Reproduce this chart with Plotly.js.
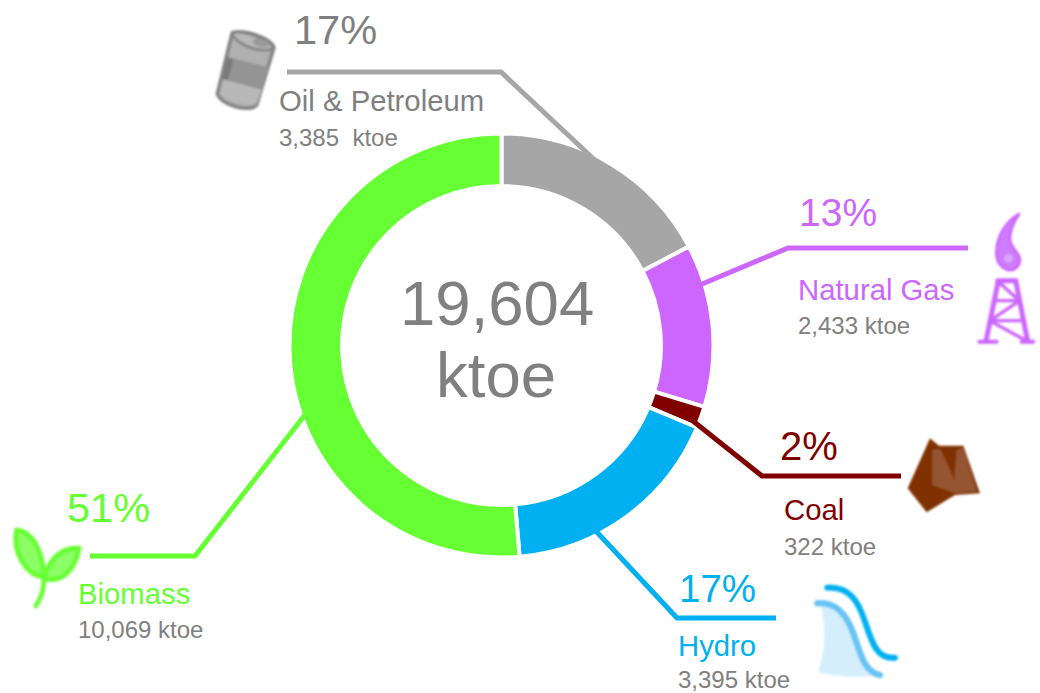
<!DOCTYPE html>
<html>
<head>
<meta charset="utf-8">
<script src="https://cdn.plot.ly/plotly-3.0.1.min.js"></script>
<style>html,body{margin:0;padding:0;background:#fff;overflow:hidden}#c{width:1040px;height:693px}</style>
</head>
<body>
<div id="c"></div>
<script>
var categories = ["Oil & Petroleum", "Natural Gas", "Coal", "Hydro", "Biomass"];
var ktoe = [3385, 2433, 322, 3395, 10069];
var percents = ["17%", "13%", "2%", "17%", "51%"];
var totalLabel = ["19,604", "ktoe"];
var valueLabels = ["3,385\u00a0\u00a0ktoe", "2,433 ktoe", "322 ktoe", "3,395 ktoe", "10,069 ktoe"];
var colors = ["#a6a6a6", "#cc66ff", "#800000", "#00b0f0", "#66ff33"];

var W = 1040, H = 693;
var px = function (x) { return x / W; };
var py = function (y) { return 1 - y / H; };
var sans = "Liberation Sans, Arial, sans-serif";
var grey = "#808080";

var trace = {
  type: "pie", labels: categories, values: ktoe, sort: false, direction: "clockwise",
  rotation: 0, hole: 0.752, textinfo: "none", hoverinfo: "label+value",
  marker: { colors: colors, line: { color: "#fff", width: 4 } },
  domain: { x: [px(289.5), px(713.5)], y: [py(557.5), py(133.5)] }
};

// Leader geometry, per category, in page pixels
var leaders = [
  [[287, 72], [501, 72], [600, 165]],
  [[968, 248], [788, 248], [695, 287]],
  [[901, 476], [762, 476], [688, 417]],
  [[776, 618], [677, 618], [594, 529]],
  [[90, 556], [195, 556], [308, 411]]
];
var shapes = leaders.map(function (pts, i) {
  return {
    type: "path", xref: "paper", yref: "paper", layer: "above",
    path: pts.map(function (p, j) { return (j ? "L" : "M") + px(p[0]) + "," + py(p[1]); }).join(" "),
    line: { color: colors[i], width: 5 }
  };
});

// Text placement per category: percent x/y/size, name x/y, value x/y
var placing = [
  { p: [294, 30], ps: 41.5, n: [279, 101], v: [279, 137] },
  { p: [799, 212], ps: 39, n: [798, 289], v: [798, 325] },
  { p: [780, 446], ps: 40, n: [784, 510], v: [784, 546] },
  { p: [679, 588], ps: 38.5, n: [678, 645], v: [678, 679.5] },
  { p: [67, 507], ps: 41.5, n: [78, 593], v: [78, 629] }
];
function note(text, pos, size, color, anchor) {
  return {
    text: text, xref: "paper", yref: "paper", x: px(pos[0]), y: py(pos[1]),
    xanchor: anchor || "left", yanchor: "middle", showarrow: false,
    borderpad: 0, borderwidth: 0, align: "left",
    font: { family: sans, size: size, color: color }
  };
}
var annotations = [];
categories.forEach(function (c, i) {
  annotations.push(note(percents[i], placing[i].p, placing[i].ps, i === 0 ? grey : colors[i]));
  annotations.push(note(c.replace("&", "&amp;"), placing[i].n, 29.3, i === 0 ? grey : colors[i]));
  annotations.push(note(valueLabels[i], placing[i].v, 24, grey));
});
annotations.push(note(totalLabel[0], [497, 302.5], 63.5, grey, "center"));
annotations.push(note(totalLabel[1], [496, 374.5], 63.5, grey, "center"));

// Decorative icons, each drawn in 3x coordinates of its box
function icon(x, y, w, h, body) {
  var svg = '<svg xmlns="http://www.w3.org/2000/svg" width="' + w * 3 + '" height="' + h * 3 +
    '" viewBox="0 0 ' + w * 3 + ' ' + h * 3 + '"><defs><filter id="b" x="-10%" y="-10%" width="120%" height="120%">' +
    '<feGaussianBlur stdDeviation="2.4"/></filter></defs><g filter="url(#b)">' + body + '</g></svg>';
  return {
    source: "data:image/svg+xml;charset=utf-8," + encodeURIComponent(svg),
    xref: "paper", yref: "paper", x: px(x), y: py(y), sizex: w / W, sizey: h / H,
    xanchor: "left", yanchor: "top", sizing: "stretch", layer: "above"
  };
}
var barrel =
  '<path d="M97,68 C130,58 210,82 222,112 L170,285 C150,308 68,288 52,252 Z" fill="#b0b0b0" stroke="#858585" stroke-width="11" stroke-linejoin="round"/>' +
  '<path d="M88,142 L205,172 L186,240 L68,208 Z" fill="#949494"/>' +
  '<path d="M82,142 L100,148 L82,218 L66,210 Z" fill="#7a7a7a"/>' +
  '<path d="M70,208 L185,240 L170,282 C140,290 80,275 58,250 Z" fill="#b8b8b8"/>' +
  '<path d="M97,68 C130,62 205,85 220,112 C205,135 105,110 97,68 Z" fill="#b8b8b8" stroke="#858585" stroke-width="8"/>' +
  '<ellipse cx="182" cy="99" rx="24" ry="12" transform="rotate(16 182 99)" fill="#9a9a9a"/>';
var gas =
  '<path d="M177,42 C130,70 105,120 110,170 C115,212 165,225 178,190 C188,160 150,150 150,115 C150,90 162,65 177,42 Z" fill="#cf7cfc" stroke="#cc66ff" stroke-width="8" stroke-linejoin="round"/>' +
  '<circle cx="145" cy="175" r="13" fill="#d9a6fd"/>' +
  '<g fill="none" stroke="#cc66ff" stroke-linecap="round">' +
  '<path d="M115,242 L78,424 M167,242 L203,424 M113,242 L168,242" stroke-width="15"/>' +
  '<path d="M58,425 L110,425 M185,425 L220,425" stroke-width="12"/>' +
  '<path d="M103,302 L178,302 M90,362 L190,362 M120,250 L170,295 M100,355 L175,305 M95,365 L195,420" stroke-width="10"/></g>';
var coal =
  '<path d="M105,40 L132,62 L205,62 L255,205 L180,210 L95,262 L38,190 Z" fill="#7f3300"/>' +
  '<path d="M112,75 L135,72 C155,110 165,135 178,165 L185,75 L205,70 L245,200 L180,205 L112,180 Z" fill="#965530"/>';
var hydro =
  '<path d="M62,92 C82,170 72,240 55,290 C100,305 180,310 238,300 C195,292 180,230 160,175 C140,120 110,82 62,92 Z" fill="#d5eefb"/>' +
  '<path d="M52,85 C110,80 140,120 160,175 C180,230 190,290 240,300" fill="none" stroke="#66c4f5" stroke-width="19" stroke-linecap="round"/>' +
  '<path d="M82,38 C150,35 175,80 195,140 C215,200 230,255 285,248" fill="none" stroke="#00b0f0" stroke-width="18" stroke-linecap="round"/>';
var plant =
  '<path d="M35,30 C80,35 115,90 115,170 C70,170 20,100 35,30 Z" fill="#8cff66" stroke="#66ff33" stroke-width="15" stroke-linejoin="round"/>' +
  '<path d="M222,85 C210,150 170,190 118,175 C130,120 170,80 222,85 Z" fill="#8cff66" stroke="#66ff33" stroke-width="15" stroke-linejoin="round"/>' +
  '<path d="M118,170 C115,210 110,235 92,258" fill="none" stroke="#66ff33" stroke-width="14" stroke-linecap="round"/>';

var images = [
  icon(200, 10, 100, 110, barrel),
  icon(960, 200, 80, 150, gas),
  icon(895, 425, 95, 95, coal),
  icon(800, 575, 105, 110, hydro),
  icon(5, 520, 85, 95, plant)
];

Plotly.newPlot("c", [trace], {
  width: W, height: H, margin: { l: 0, r: 0, t: 0, b: 0 },
  paper_bgcolor: "#fff", plot_bgcolor: "#fff", showlegend: false,
  shapes: shapes, annotations: annotations, images: images
}, { displayModeBar: false, staticPlot: true });
</script>
</body>
</html>
